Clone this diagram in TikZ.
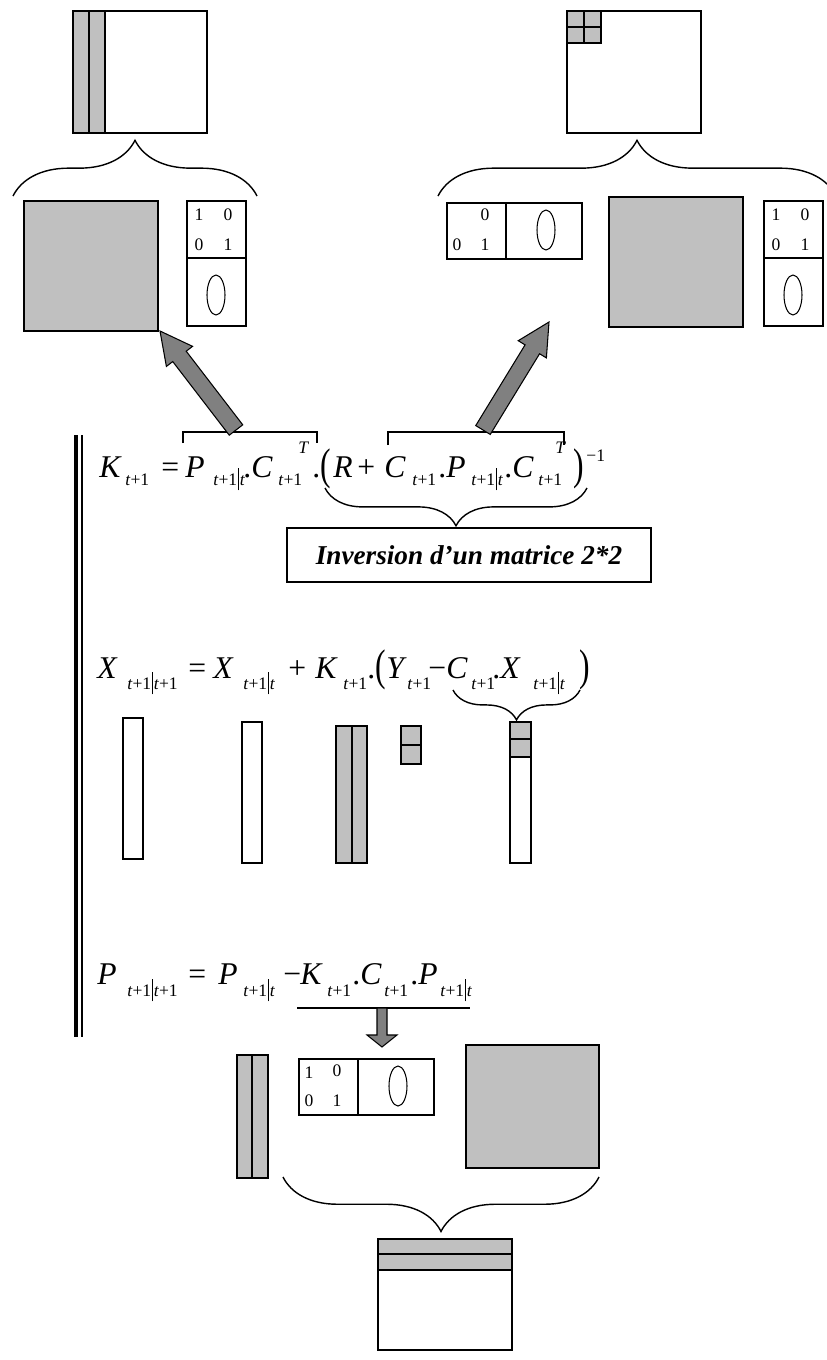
\documentclass[tikz,border=0pt]{standalone}
\usepackage{graphicx}
\usepackage{fontspec}
\setmainfont{Liberation Serif}
\usetikzlibrary{calc, decorations.pathreplacing}
\definecolor{matgray}{HTML}{C0C0C0}
\definecolor{arrgray}{HTML}{808080}
\tikzset{
  thickbox/.style={draw, line width=1.1pt},
  thinbox/.style={draw, line width=0.6pt},
  cell/.style={draw, line width=1.1pt, fill=matgray},
  curly/.style={decorate, decoration={brace, amplitude=#1}, line width=0.8pt},
  fat/.style={draw, line width=0.6pt, fill=arrgray},
  eqmain/.style={font=\fontsize{18}{18}\selectfont, anchor=base west, inner sep=0pt},
  eqidx/.style={font=\fontsize{10}{10}\selectfont, anchor=base west, inner sep=0pt},
  digit/.style={font=\fontsize{10}{10}\selectfont, inner sep=0pt},
  note/.style={draw, line width=0.8pt, font=\fontsize{15.5}{15.5}\selectfont\bfseries\itshape, minimum width=7.28cm, minimum height=1.08cm},
}
\newcommand{\cond}{\kern0.5pt\rule[-3pt]{0.45pt}{12.5pt}\kern0.5pt}
\newcommand{\tall}[1]{\raisebox{-1.7pt}{\scalebox{1}[1.4]{#1}}}
% identity block above, ellipse below
\newcommand{\idvert}[3]{%
  \begin{scope}[shift={(#1,#2)}]
    \draw[thinbox] (0,0) rectangle (59,125);
    \draw[thinbox] (0,57) -- (59,57);
    \node[digit] (#3a) at (12,14) {1};
    \node[digit] (#3b) at (41,14) {0};
    \node[digit] (#3c) at (12,44) {0};
    \node[digit] (#3d) at (41,44) {1};
    \draw[thinbox] (29,94) ellipse [x radius=0.18cm, y radius=0.4cm];
  \end{scope}}
% identity block left, ellipse right
\newcommand{\idhorz}[4]{%
  \begin{scope}[shift={(#1,#2)}]
    \draw[thinbox] (0,0) rectangle (135,56);
    \draw[thinbox] (59,0) -- (59,56);
    \node[digit] (#3a) at (10,14) {#4};
    \node[digit] (#3b) at (38,12) {0};
    \node[digit] (#3c) at (10,42) {0};
    \node[digit] (#3d) at (38,42) {1};
    \draw[thinbox] (99,27) ellipse [x radius=0.18cm, y radius=0.4cm];
  \end{scope}}
% from, to, half shaft, half head, head length
\newcommand{\fatarrow}[5]{%
  \coordinate (hb) at ($(#2)!#5!(#1)$);
  \draw[fat] ($(#1)!#3!90:(#2)$) -- ($(hb)!#3!90:(#2)$) -- ($(hb)!#4!90:(#2)$) -- (#2)
    -- ($(hb)!#4!-90:(#2)$) -- ($(hb)!#3!-90:(#2)$) -- ($(#1)!#3!-90:(#2)$) -- cycle;}

\begin{document}
\begin{tikzpicture}[x=0.02cm, y=-0.02cm]
  \useasboundingbox (0,0) rectangle (826,1360);

  % top row: result matrices
  \draw[cell] (73,11) rectangle (89,133);
  \draw[cell] (89,11) rectangle (105,133);
  \draw[thickbox] (73,11) rectangle (207,133);
  \foreach \i in {0,1} \foreach \j in {0,1}
    \draw[cell] ({567+\i*17},{11+\j*16}) rectangle ({584+\i*17},{27+\j*16});
  \draw[thickbox] (567,11) rectangle (701,133);
  \draw[curly=31.7pt] (13,196) -- (257,196);
  \draw[curly=31.7pt] (438,196) -- (836,196);

  % factors
  \draw[cell] (24,201) rectangle (158,331);
  \idvert{187}{201}{ul}
  \idhorz{447}{203}{ur}{}
  \draw[cell] (609,197) rectangle (743,327);
  \idvert{764}{201}{uv}

  % gain equation
  \draw[line width=2.3pt] (76,435) -- (76,1037);
  \draw[line width=0.6pt] (82,435) -- (82,1037);
  \foreach \x/\s [count=\n] in {99/\textit{K}, 161/=, 185/\textit{P}, 243/., 251/\textit{C}, 312/.\tall{(},
      333/\textit{R}, 357/+, 384/\textit{C}, 438/., 446/\textit{P}, 504/., 512/\textit{C}, 573/\tall{)}}
    \node[eqmain] (ka\n) at (\x,477) {\s};
  \foreach \x/\s [count=\n] in {125/{\textit{t}+1}, 213/{\textit{t}+1\cond\textit{t}}, 278/{\textit{t}+1},
      412/{\textit{t}+1}, 471/{\textit{t}+1\cond\textit{t}}, 538/{\textit{t}+1}}
    \node[eqidx] (kb\n) at (\x,485) {\s};
  \node[eqidx] (kt1) at (298,453) {\textit{T}};
  \node[eqidx] (kt2) at (555,453) {\textit{T}};
  \node[eqidx] (kinv) at (586,461) {−1};
  \draw[line width=0.85pt] (183,443) -- (183,432) -- (317,432) -- (317,443);
  \draw[line width=0.85pt] (388,445) -- (388,432) -- (564,432) -- (564,445);
  \coordinate (gainA) at (236,430);
  \coordinate (gainB) at (483,430);
  \coordinate (sqA) at (160,331);
  \coordinate (sqB) at (549,322);
  \fatarrow{gainA}{sqA}{0.17cm}{0.33cm}{0.64cm}
  \fatarrow{gainB}{sqB}{0.17cm}{0.33cm}{0.64cm}
  \draw[curly=21.5pt] (587,488) -- (325,488);
  \node[note] (inv) at (469,555) {Inversion d’un matrice 2*2};

  % state update
  \foreach \x/\s [count=\n] in {97/\textit{X}, 188/=, 213/\textit{X}, 288/+, 315/\textit{K}, 367/.\tall{(},
      386/\textit{Y}, 428/−, 446/\textit{C}, 492/., 500/\textit{X}, 579/\tall{)}}
    \node[eqmain] (xa\n) at (\x,678) {\s};
  \foreach \x/\s [count=\n] in {127/{\textit{t}+1\cond\textit{t}+1}, 243/{\textit{t}+1\cond\textit{t}},
      343/{\textit{t}+1}, 407/{\textit{t}+1}, 471/{\textit{t}+1}, 533/{\textit{t}+1\cond\textit{t}}}
    \node[eqidx] (xb\n) at (\x,689) {\s};
  \draw[curly=17pt] (580,690) -- (453,690);
  \draw[thickbox] (123,718) rectangle (143,859);
  \draw[thickbox] (242,722) rectangle (262,863);
  \draw[cell] (336,726) rectangle (352,863);
  \draw[cell] (352,726) rectangle (367,863);
  \draw[cell] (401,726) rectangle (421,745);
  \draw[cell] (401,745) rectangle (421,764);
  \draw[thickbox] (510,722) rectangle (531,863);
  \draw[cell] (510,722) rectangle (531,739);
  \draw[cell] (510,739) rectangle (531,757);

  % covariance update
  \foreach \x/\s [count=\n] in {97/\textit{P}, 188/=, 218/\textit{P}, 283/−, 300/\textit{K}, 352/.,
      360/\textit{C}, 410/., 418/\textit{P}}
    \node[eqmain] (pa\n) at (\x,984) {\s};
  \foreach \x/\s [count=\n] in {127/{\textit{t}+1\cond\textit{t}+1}, 243/{\textit{t}+1\cond\textit{t}},
      327/{\textit{t}+1}, 384/{\textit{t}+1}, 440/{\textit{t}+1\cond\textit{t}}}
    \node[eqidx] (pb\n) at (\x,996) {\s};
  \draw[line width=0.7pt] (297,1008) -- (470,1008);
  \coordinate (covA) at (382,1008);
  \coordinate (covB) at (382,1047);
  \fatarrow{covA}{covB}{0.1cm}{0.3cm}{0.24cm}
  \draw[cell] (237,1055) rectangle (252,1178);
  \draw[cell] (252,1055) rectangle (268,1178);
  \idhorz{299}{1059}{lw}{1}
  \draw[cell] (466,1045) rectangle (599,1168);
  \draw[curly=31pt] (599,1177) -- (283,1177);
  \draw[thickbox] (378,1239) rectangle (512,1350);
  \draw[cell] (378,1239) rectangle (512,1254);
  \draw[cell] (378,1254) rectangle (512,1270);
\end{tikzpicture}
\end{document}
